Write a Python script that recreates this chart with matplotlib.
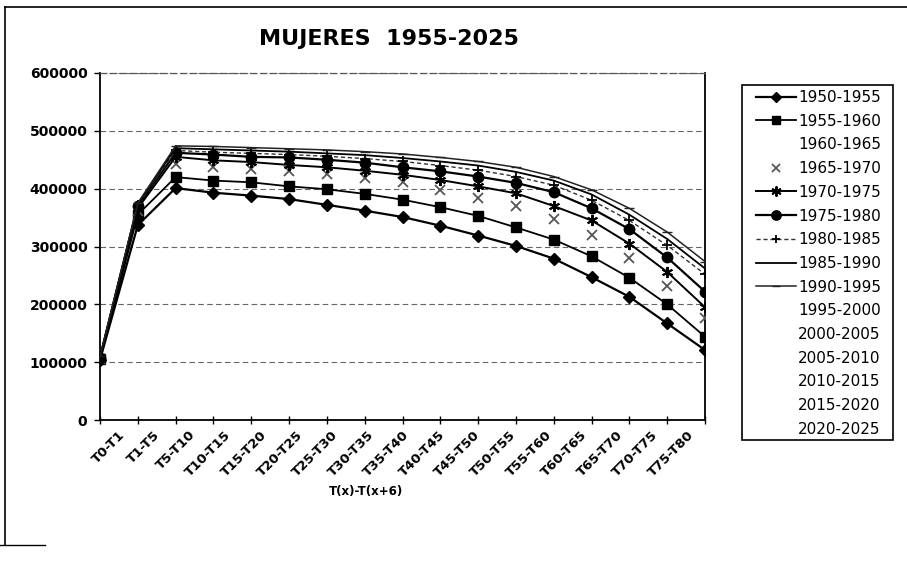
import matplotlib
matplotlib.use("Agg")
import matplotlib.pyplot as plt
from matplotlib.lines import Line2D
from matplotlib.patches import Rectangle

categories = ["T0-T1", "T1-T5", "T5-T10", "T10-T15", "T15-T20", "T20-T25",
              "T25-T30", "T30-T35", "T35-T40", "T40-T45", "T45-T50", "T50-T55",
              "T55-T60", "T60-T65", "T65-T70", "T70-T75", "T75-T80"]

periods = ["1950-1955", "1955-1960", "1960-1965", "1965-1970", "1970-1975",
           "1975-1980", "1980-1985", "1985-1990", "1990-1995", "1995-2000",
           "2000-2005", "2005-2010", "2010-2015", "2015-2020", "2020-2025"]

s1950_1955 = [104000, 337000, 401000, 393000, 388000, 382000, 372000, 362000, 351000,
              336000, 319000, 301000, 279000, 247000, 213000, 167000, 121000]
s1955_1960 = [105000, 355000, 420000, 414000, 411000, 404000, 399000, 391000, 381000,
              368000, 353000, 333000, 312000, 283000, 246000, 200000, 144000]
s1965_1970 = [106000, 362000, 443000, 438000, 434000, 430000, 425000, 419000, 411000,
              398000, 384000, 370000, 347000, 320000, 280000, 231000, 176000]
s1970_1975 = [107000, 366000, 455000, 449000, 446000, 441000, 437000, 431000, 424000,
              415000, 404000, 392000, 370000, 345000, 305000, 256000, 195000]
s1975_1980 = [108000, 370000, 462000, 459000, 455000, 454000, 450000, 445000, 437000,
              430000, 421000, 410000, 394000, 366000, 330000, 281000, 222000]
s1980_1985 = [108000, 372000, 466000, 463000, 461000, 459000, 456000, 452000, 447000,
              440000, 432000, 421000, 406000, 380000, 345000, 302000, 252000]
s1985_1990 = [109000, 374000, 470000, 468000, 466000, 464000, 461000, 458000, 453000,
              447000, 440000, 429000, 414000, 390000, 355000, 313000, 262000]
s1990_1995 = [110000, 375000, 474000, 473000, 471000, 469000, 467000, 464000, 460000,
              454000, 447000, 437000, 421000, 398000, 366000, 325000, 274000]

y_ticks = [0, 100000, 200000, 300000, 400000, 500000, 600000]

W, H = 907, 562
fig = plt.figure(figsize=(W / 100, H / 100), dpi=100)
fig.patch.set_facecolor("white")

# plot area in pixel terms
left, right, top, bottom = 100, 705, 73, 420
ax = fig.add_axes([left / W, 1 - bottom / H, (right - left) / W, (bottom - top) / H])

n = len(categories)
x = list(range(n))

# horizontal gridlines
for v in y_ticks[1:]:
    ax.axhline(v, color="#666666", lw=0.8, ls=(0, (5, 3)), zorder=1)

handles = {}
handles["1950-1955"], = ax.plot(x, s1950_1955, color="black", lw=1.6, marker="D",
                                ms=6, zorder=3)
handles["1955-1960"], = ax.plot(x, s1955_1960, color="black", lw=1.3, marker="s",
                                ms=6.5, zorder=3)
handles["1965-1970"], = ax.plot(x, s1965_1970, color="#555555", lw=0, marker="x",
                                ms=6.5, mew=1.3, zorder=3)
handles["1970-1975"], = ax.plot(x, s1970_1975, color="black", lw=1.4, marker=(6, 2, 0),
                                ms=8, mew=1.4, zorder=3)
handles["1975-1980"], = ax.plot(x, s1975_1980, color="black", lw=1.6, marker="o",
                                ms=7.5, zorder=3)
handles["1980-1985"], = ax.plot(x, s1980_1985, color="#333333", lw=1.0, ls=(0, (3, 2)),
                                marker="+", ms=7, mew=1.3, mec="black", zorder=3)
handles["1985-1990"], = ax.plot(x, s1985_1990, color="black", lw=1.3, zorder=3)
handles["1990-1995"], = ax.plot(x, s1990_1995, color="#222222", lw=1.1, marker="_",
                                ms=7, zorder=3)

ax.set_xlim(0, n - 1)
ax.set_ylim(0, 600000)
ax.set_yticks(y_ticks)
ax.set_yticklabels([str(v) for v in y_ticks], fontsize=10, fontweight="bold")

# tick marks sit on the data points; labels sit at the category centres
ax.xaxis.remove_overlapping_locs = False
ax.set_xticks(x)
ax.set_xticklabels([])
label_pos = [(i + 0.5) * (n - 1) / n for i in x]
ax.set_xticks(label_pos, minor=True)
ax.set_xticklabels(categories, minor=True, fontsize=9.5, fontweight="bold", rotation=45,
                   ha="right", va="top", rotation_mode="anchor")
ax.tick_params(axis="y", direction="out", length=4, width=1, pad=5)
ax.tick_params(axis="x", which="major", direction="inout", length=6, width=1)
ax.tick_params(axis="x", which="minor", length=0, pad=6)

for side in ("left", "bottom", "right"):
    ax.spines[side].set_color("black")
    ax.spines[side].set_linewidth(1.3)
ax.spines["top"].set_color("#555555")
ax.spines["top"].set_linewidth(0.9)
ax.spines["top"].set_linestyle((0, (5, 3)))

fig.text(366 / W, 1 - 492 / H, "T(x)-T(x+6)", fontsize=8.5, fontweight="bold",
         ha="center", va="center")

fig.text(389 / W, 1 - 39 / H, "MUJERES  1955-2025", fontsize=16, fontweight="bold",
         ha="center", va="center")

# legend: entries whose lines are not drawn get empty handles
legend_handles = []
for p in periods:
    if p in handles:
        legend_handles.append(handles[p])
    else:
        legend_handles.append(Line2D([], [], ls="none"))
leg = fig.legend(legend_handles, periods, loc="upper left",
                 bbox_to_anchor=(756 / W, 1 - 90 / H), borderaxespad=0, borderpad=0,
                 fontsize=11, frameon=False, labelspacing=0.57,
                 handlelength=2.6, handletextpad=0.15, markerscale=0.9)

fig.add_artist(Rectangle((742 / W, 1 - 440 / H), 151 / W, 355 / H, fill=False,
                         edgecolor="black", lw=1.2))

# chart area border
fig.add_artist(Line2D([5 / W, 5 / W], [1 - 7 / H, 1 - 545 / H], color="black", lw=1.2))
fig.add_artist(Line2D([5 / W, 1.0], [1 - 7 / H, 1 - 7 / H], color="black", lw=1.2))
fig.add_artist(Line2D([0, 45 / W], [1 - 545 / H, 1 - 545 / H], color="black", lw=1.0))

fig.savefig("out.png", dpi=100)
